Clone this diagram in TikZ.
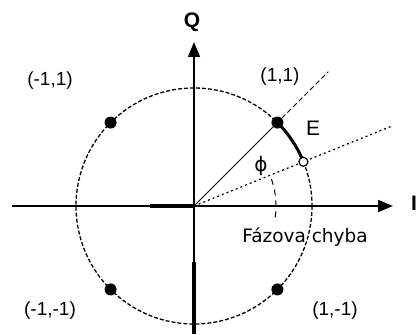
\documentclass[tikz,border=0pt]{standalone}
\usepackage{fontspec}
\setmainfont{Liberation Sans}
\newfontfamily\dejavu{DejaVu Sans}
\usetikzlibrary{arrows.meta}
\begin{document}
\begin{tikzpicture}[x=1pt,y=-1pt,
  lbl/.style={font=\fontsize{19}{21}\selectfont, inner sep=0pt},
  big/.style={font=\bfseries\fontsize{21}{23}\selectfont, inner sep=0pt},
  axisline/.style={line width=1.6pt, -{Triangle[length=15pt,width=12pt]}},
  thickseg/.style={line width=3.6pt},
  dot/.style={circle, fill=black, inner sep=0pt, minimum size=12pt},
  odot/.style={circle, draw=black, fill=white, line width=1.2pt, inner sep=0pt, minimum size=9pt},
  circ/.style={line width=1.3pt, dash pattern=on 4pt off 2pt},
  diag/.style={line width=1pt},
  diagext/.style={line width=1pt, dash pattern=on 5pt off 3pt},
  dotline/.style={line width=1.2pt, dash pattern=on 2pt off 3pt},
  phiarc/.style={line width=1pt, dash pattern=on 6pt off 5pt},
  err/.style={line width=3pt}
]
\useasboundingbox (0,0) rectangle (419,334);
\coordinate (O) at (194,206);
% axes
\coordinate (xl) at (12,206);
\coordinate (xr) at (393,206);
\coordinate (yb) at (194,334);
\coordinate (yt) at (194,42);
\coordinate (xth) at (150,206);
\coordinate (yth) at (194,262);
\draw[axisline] (xl) -- (xr);
\draw[axisline] (yb) -- (yt);
\draw[thickseg] (xth) -- (O);
\draw[thickseg] (yth) -- (yb);
% circle
\draw[circ] (O) circle[radius=118];
% phase lines
\path (O) ++(-45:190) coordinate (e45);
\path (O) ++(-22:212) coordinate (e22);
\path (O) ++(8:82) coordinate (a0);
\draw[dotline] (O) -- (e22);
\draw[phiarc] (a0) arc[start angle=8, end angle=-22, radius=82];
% points
\path (O) ++(-45:118) node[dot] (p11) {};
\path (O) ++(-135:118) node[dot] (pm11) {};
\path (O) ++(135:118) node[dot] (pmm) {};
\path (O) ++(45:118) node[dot] (p1m) {};
\draw[diag] (O) -- (p11);
\draw[diagext] (p11) -- (e45);
\path (O) ++(-45:118) coordinate (s45);
\draw[err] (s45) arc[start angle=-45, end angle=-22, radius=118] coordinate (s22);
\node[odot] (err) at (s22) {};
% labels
\node[big] (Q) at (192,22) {Q};
\node[big] (I) at (414,203) {I};
\node[inner sep=0pt, font=\fontsize{21}{23}\selectfont] (E) at (313,128) {E};
\node[inner sep=0pt, font=\dejavu\fontsize{20}{22}\selectfont] (phi) at (261,166) {ϕ};
\node[inner sep=0pt, font=\dejavu\fontsize{18.5}{21}\selectfont] (fc) at (305,237) {Fázova chyba};
\node[lbl] (l1) at (50,81) {(-1,1)};
\node[lbl] (l2) at (280,77) {(1,1)};
\node[lbl] (l3) at (50,311) {(-1,-1)};
\node[lbl] (l4) at (335,311) {(1,-1)};
\end{tikzpicture}
\end{document}
